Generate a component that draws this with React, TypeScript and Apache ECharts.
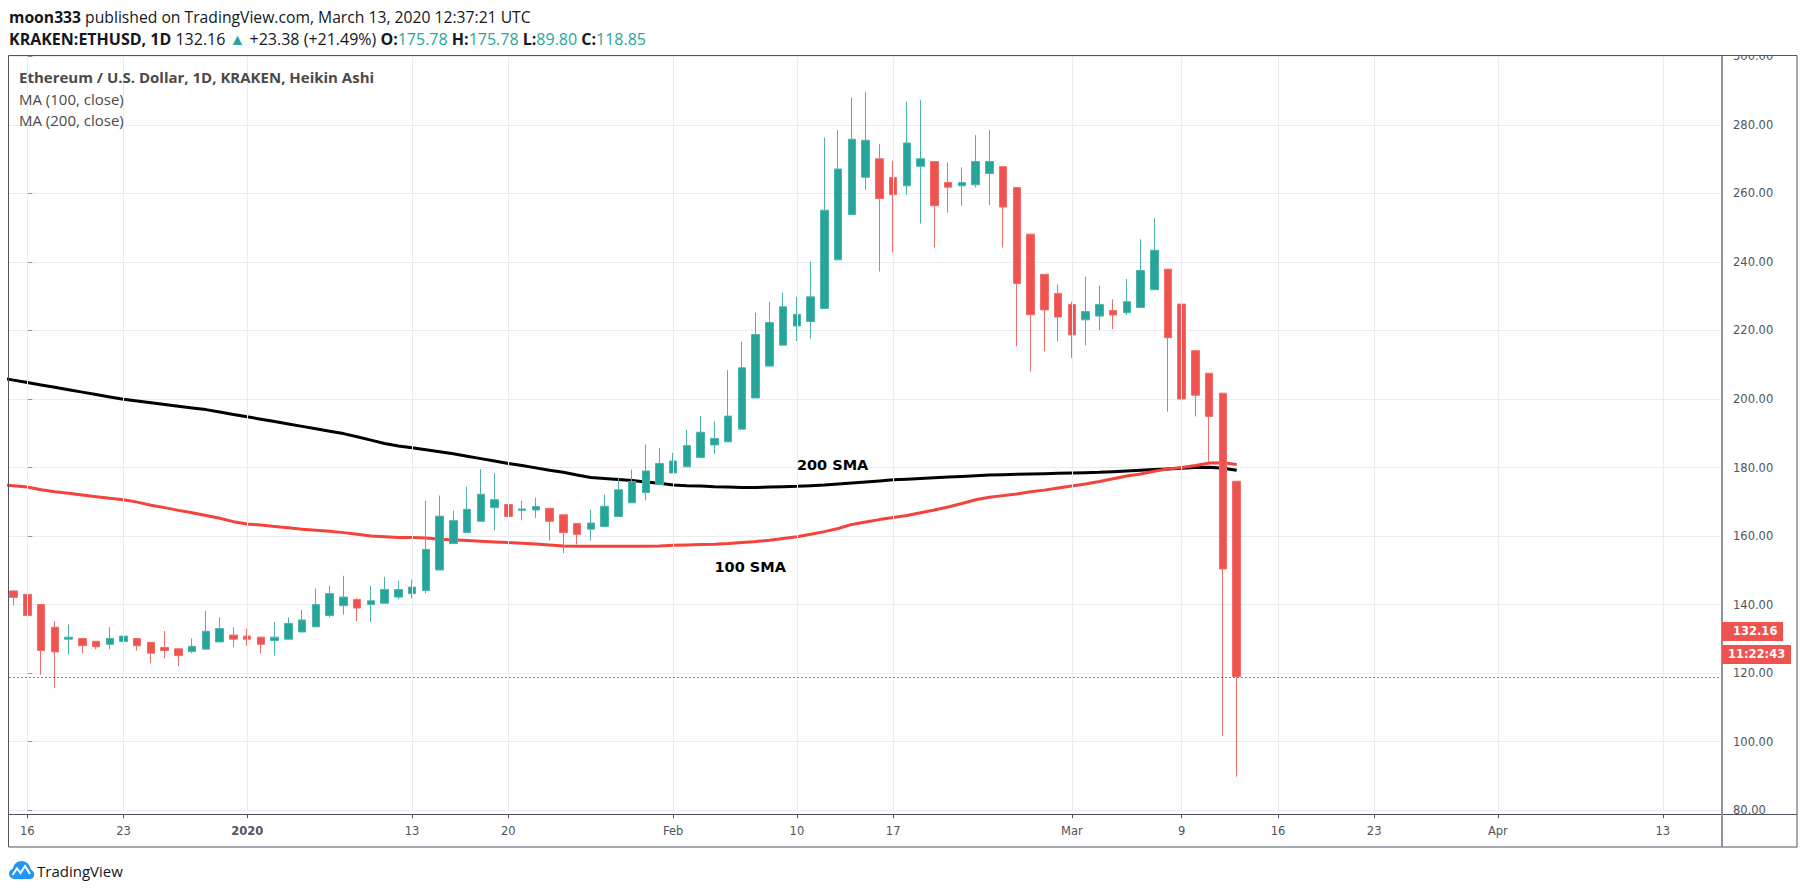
import React, { useEffect, useRef } from "react";
import * as echarts from "echarts";

const DAY = 86400000;
// first candle date and first moving-average date (UTC)
const CANDLE_START = Date.UTC(2019, 11, 15);
const MA_START = Date.UTC(2019, 11, 14);

// Heikin Ashi candles, Dec 15 2019 .. Mar 13 2020
const OPEN = [144.0, 143.0, 140.0, 133.4, 129.9, 130.1, 129.3, 128.4, 129.2, 130.1, 129.0, 127.5, 127.1, 126.3, 127.0, 129.1, 131.1, 130.8, 130.5, 129.5, 129.9, 132.0, 133.5, 136.8, 139.7, 141.5, 140.0, 140.4, 142.2, 143.2, 144.1, 150.1, 157.8, 161.0, 164.3, 168.3, 169.2, 167.5, 167.6, 168.1, 166.2, 163.7, 162.0, 162.8, 165.7, 169.7, 172.7, 175.0, 178.4, 180.2, 182.9, 186.6, 187.5, 191.2, 200.3, 209.6, 215.7, 221.3, 222.6, 226.4, 240.6, 253.8, 264.7, 270.1, 264.6, 262.2, 267.9, 269.3, 263.2, 262.2, 262.5, 265.8, 267.8, 261.7, 248.1, 236.4, 230.8, 227.6, 223.1, 224.2, 225.8, 225.2, 226.7, 231.9, 237.9, 227.7, 214.1, 207.5, 201.7, 176.0];
const CLOSE = [142.1, 136.8, 126.6, 126.2, 130.5, 128.0, 127.7, 130.1, 130.8, 128.0, 125.8, 126.6, 125.1, 127.8, 132.2, 133.0, 129.9, 129.9, 128.4, 130.5, 134.5, 135.5, 140.0, 143.2, 142.2, 139.0, 141.1, 144.4, 144.4, 145.1, 156.1, 165.8, 164.5, 167.8, 172.2, 170.6, 165.7, 167.9, 168.6, 164.3, 161.0, 160.5, 163.8, 168.7, 173.5, 175.9, 179.0, 181.2, 181.9, 186.4, 190.3, 188.5, 195.0, 209.1, 218.8, 222.3, 226.9, 224.7, 229.8, 255.1, 267.1, 275.8, 275.5, 258.5, 259.6, 274.7, 270.1, 256.4, 261.8, 263.2, 269.3, 269.3, 256.0, 233.7, 224.6, 226.0, 223.9, 218.7, 225.5, 227.6, 224.5, 228.4, 237.5, 243.4, 217.9, 200.0, 201.1, 194.9, 150.4, 119.0];
const LOW = [139.7, 129.7, 119.5, 115.6, 125.4, 125.8, 127.0, 127.0, 125.8, 126.6, 122.9, 124.3, 122.1, 125.8, 127.0, 129.1, 127.6, 128.0, 125.8, 125.1, 129.9, 132.0, 133.5, 136.3, 137.1, 135.2, 134.9, 140.4, 141.5, 141.8, 143.3, 150.1, 157.7, 161.0, 164.3, 161.6, 160.9, 164.6, 165.3, 158.7, 155.0, 157.5, 158.7, 162.8, 165.7, 169.7, 170.4, 175.0, 178.4, 180.2, 182.9, 184.0, 187.5, 191.2, 200.3, 209.6, 215.7, 216.9, 217.6, 226.4, 240.6, 253.8, 261.0, 237.2, 242.7, 259.6, 251.2, 244.2, 254.4, 256.4, 261.7, 256.6, 244.2, 215.4, 208.0, 213.9, 216.8, 212.0, 215.7, 220.1, 220.4, 224.5, 226.7, 231.9, 196.3, 189.0, 194.9, 181.5, 101.7, 89.8];
const HIGH = [144.2, 143.0, 140.0, 135.2, 134.2, 130.1, 129.3, 133.4, 135.2, 130.1, 129.0, 132.3, 127.1, 130.2, 138.2, 136.3, 133.4, 133.0, 130.5, 134.9, 136.3, 138.5, 144.7, 145.5, 148.4, 141.9, 145.5, 148.1, 146.9, 147.3, 170.3, 171.8, 167.4, 174.4, 179.5, 178.4, 169.2, 170.3, 171.2, 168.1, 166.2, 163.7, 167.7, 172.1, 177.1, 179.4, 186.7, 185.7, 184.3, 191.0, 195.0, 193.5, 208.4, 216.7, 225.2, 228.4, 231.0, 229.8, 240.1, 276.3, 278.5, 288.0, 289.5, 274.4, 269.5, 286.8, 287.2, 269.3, 269.0, 267.6, 277.0, 278.5, 267.8, 261.7, 248.1, 236.4, 233.4, 228.4, 235.7, 233.1, 229.1, 235.0, 246.6, 252.8, 237.9, 227.7, 214.1, 207.5, 201.7, 176.0];

// Moving averages, Dec 14 2019 .. Mar 13 2020
const MA100 = [175.0, 174.7, 174.3, 173.5, 172.9, 172.5, 172.0, 171.5, 171.0, 170.6, 169.9, 169.0, 168.3, 167.5, 166.8, 166.0, 165.2, 164.2, 163.5, 163.2, 162.8, 162.4, 162.0, 161.7, 161.4, 161.0, 160.5, 160.0, 159.8, 159.6, 159.6, 159.4, 159.1, 158.9, 158.7, 158.5, 158.3, 158.1, 157.9, 157.7, 157.4, 157.1, 157.0, 157.0, 157.0, 157.0, 157.0, 157.0, 157.1, 157.3, 157.4, 157.5, 157.6, 157.8, 158.1, 158.4, 158.8, 159.3, 159.8, 160.5, 161.3, 162.2, 163.4, 164.1, 164.8, 165.4, 166.0, 166.8, 167.6, 168.5, 169.5, 170.6, 171.3, 171.8, 172.3, 172.9, 173.4, 174.0, 174.6, 175.2, 175.9, 176.7, 177.5, 178.1, 178.9, 179.6, 180.0, 180.6, 181.3, 181.4, 180.9];
const MA200 = [206.2, 205.5, 204.8, 204.1, 203.4, 202.7, 202.0, 201.3, 200.6, 199.9, 199.4, 198.9, 198.4, 197.9, 197.4, 196.9, 196.2, 195.5, 194.8, 194.1, 193.4, 192.7, 192.0, 191.3, 190.6, 189.9, 189.0, 188.0, 187.0, 186.3, 185.8, 185.2, 184.6, 184.0, 183.3, 182.6, 181.9, 181.2, 180.6, 179.9, 179.2, 178.6, 177.8, 177.1, 176.8, 176.5, 176.2, 175.8, 175.4, 174.9, 174.7, 174.6, 174.4, 174.3, 174.2, 174.2, 174.3, 174.4, 174.5, 174.7, 174.9, 175.2, 175.5, 175.8, 176.1, 176.4, 176.6, 176.8, 177.0, 177.2, 177.4, 177.6, 177.8, 177.9, 178.0, 178.1, 178.2, 178.3, 178.4, 178.5, 178.6, 178.8, 179.0, 179.2, 179.4, 179.6, 179.8, 180.0, 180.1, 179.8, 179.2];

// x-axis tick dates and labels
const TICK_DATES = [[2019, 11, 16], [2019, 11, 23], [2020, 0, 1], [2020, 0, 13], [2020, 0, 20], [2020, 1, 1], [2020, 1, 10], [2020, 1, 17], [2020, 2, 1], [2020, 2, 9], [2020, 2, 16], [2020, 2, 23], [2020, 3, 1], [2020, 3, 13]];
const TICK_LABELS = ["16", "23", "2020", "13", "20", "Feb", "10", "17", "Mar", "9", "16", "23", "Apr", "13"];
const Y_MIN = 80;
const Y_MAX = 300;
const Y_STEP = 20;

const LAST_PRICE = 132.16;
const LAST_CLOSE = 118.85;
const COUNTDOWN = "11:22:43";

// label anchors for the MA annotations (date, value)
const SMA200_LABEL = { date: [2020, 1, 10], value: 180.8, text: "200 SMA" };
const SMA100_LABEL = { date: [2020, 1, 4], value: 151.0, text: "100 SMA" };

const UP = "#26a69a";
const DOWN = "#ef5350";

// the x axis counts days from Dec 16 2019
const ORIGIN = Date.UTC(2019, 11, 16);
const dayOf = (d: number[]) => (Date.UTC(d[0], d[1], d[2]) - ORIGIN) / DAY;
const TICK_DAYS = TICK_DATES.map(dayOf);
const CANDLE_DAY0 = (CANDLE_START - ORIGIN) / DAY;
const MA_DAY0 = (MA_START - ORIGIN) / DAY;

let logoRegistered = false;
function registerLogo() {
  if (logoRegistered) return;
  logoRegistered = true;
  const d =
    "M6 20 C2.7 20 0 17.3 0 14 C0 11.2 1.9 8.9 4.5 8.2 C5.2 3.5 9.2 0 14 0 C19.2 0 23.4 4.1 23.9 9.2 C26.3 10.2 28 12.6 28 15.3 C28 17.9 25.9 20 23.3 20 Z";
  echarts.graphic.registerShape("tvlogo", (echarts.graphic as any).extendPath(d, {}));
}

export default function App() {
  const ref = useRef<HTMLDivElement>(null);
  useEffect(() => {
    document.body.style.margin = "0";
    registerLogo();
    const chart = echarts.init(ref.current!, null, { renderer: "svg" });

    const candles = OPEN.map((o, i) => [CANDLE_DAY0 + i, o, CLOSE[i], LOW[i], HIGH[i]]);
    const ma100 = MA100.map((v, i) => [MA_DAY0 + i, v]);
    const ma200 = MA200.map((v, i) => [MA_DAY0 + i, v]);

    const axisFont = "DejaVu Sans";
    const option: any = {
      animation: false,
      backgroundColor: "#ffffff",
      grid: {
        left: 9,
        right: 83,
        top: 56.3,
        bottom: 83.8,
        containLabel: false,
        outerBoundsMode: "none",
      },
      xAxis: {
        type: "value",
        min: -1.3316,
        max: 123.31,
        offset: 4,
        axisLine: { show: false },
        axisTick: {
          show: true,
          customValues: TICK_DAYS,
          length: 4,
          lineStyle: { color: "#50535e", width: 1 },
        },
        axisLabel: {
          customValues: TICK_DAYS,
          margin: 11,
          color: "#50535e",
          fontSize: 11.5,
          fontFamily: axisFont,
          formatter: (v: number) => {
            const i = TICK_DAYS.indexOf(v);
            const s = i >= 0 ? TICK_LABELS[i] : "";
            return s === "2020" ? "{b|" + s + "}" : s;
          },
          rich: {
            b: { fontWeight: "bold", fontSize: 11.5, fontFamily: axisFont, color: "#50535e" },
          },
        },
        splitLine: { show: false },
      },
      yAxis: {
        type: "value",
        position: "right",
        min: Y_MIN,
        max: Y_MAX,
        interval: Y_STEP,
        axisLine: { show: false },
        axisTick: { show: true, length: 5, lineStyle: { color: "#8f929b", width: 1 } },
        axisLabel: {
          margin: 11,
          color: "#50535e",
          fontSize: 11.5,
          fontFamily: axisFont,
          formatter: (v: number) => v.toFixed(2),
        },
        splitLine: { show: true, lineStyle: { color: "#e9edf2", width: 1 } },
      },
      series: [
        {
          type: "line",
          name: "grid",
          data: [],
          z: 1,
          silent: true,
          markLine: {
            silent: true,
            symbol: ["none", "none"],
            label: { show: false },
            lineStyle: { color: "#e9edf2", width: 1, type: "solid" },
            data: TICK_DAYS.map((t) => ({ xAxis: t })),
          },
        },
        {
          type: "line",
          name: "MA 200",
          data: ma200,
          showSymbol: false,
          symbol: "none",
          z: 2,
          lineStyle: { color: "#000000", width: 3 },
        },
        {
          type: "line",
          name: "MA 100",
          data: ma100,
          showSymbol: false,
          symbol: "none",
          z: 2,
          lineStyle: { color: "#f4433b", width: 3 },
        },
        {
          type: "candlestick",
          name: "ETHUSD",
          data: candles,
          barWidth: 8,
          z: 3,
          itemStyle: {
            color: UP,
            color0: DOWN,
            borderColor: "#4db3a9",
            borderColor0: "#f26d6a",
            borderWidth: 1,
          },
          markLine: {
            silent: true,
            symbol: ["none", "none"],
            label: { show: false },
            lineStyle: { color: DOWN, width: 1, type: [2, 2] },
            data: [{ yAxis: LAST_CLOSE }],
          },
        },
      ],
    };
    chart.setOption(option);

    const yTag = chart.convertToPixel({ yAxisIndex: 0 }, LAST_PRICE) as number;
    const p200 = chart.convertToPixel({ gridIndex: 0 }, [dayOf(SMA200_LABEL.date), SMA200_LABEL.value]) as number[];
    const p100 = chart.convertToPixel({ gridIndex: 0 }, [dayOf(SMA100_LABEL.date), SMA100_LABEL.value]) as number[];

    const hdr = "Open Sans";
    const txt = (x: number, y: number, style: any, z = 110) => ({
      type: "text",
      x,
      y,
      z,
      silent: true,
      style: { verticalAlign: "middle", align: "left", ...style },
    });

    const graphic: any[] = [
      { type: "rect", z: 100, silent: true, shape: { x: 1723, y: 0, width: 74, height: 55 }, style: { fill: "#ffffff" } },
      { type: "rect", z: 100, silent: true, shape: { x: 1723, y: 814, width: 74, height: 32.5 }, style: { fill: "#ffffff" } },
      { type: "rect", z: 101, silent: true, shape: { x: 8.5, y: 55.5, width: 1788.5, height: 791.5 }, style: { fill: "none", stroke: "#50535e", lineWidth: 1 } },
      { type: "line", z: 101, silent: true, shape: { x1: 9, y1: 814.5, x2: 1797, y2: 814.5 }, style: { stroke: "#50535e", lineWidth: 1 } },
      { type: "line", z: 101, silent: true, shape: { x1: 1722, y1: 56, x2: 1722, y2: 847 }, style: { stroke: "#8f929b", lineWidth: 2 } },
      txt(9, 17, {
        text: "{b|moon333} published on TradingView.com, March 13, 2020 12:37:21 UTC",
        fill: "#131722",
        fontSize: 15.7,
        fontFamily: hdr,
        rich: { b: { fontWeight: "bold", fontSize: 15.7, fontFamily: hdr, fill: "#131722" } },
      }),
      txt(9, 39, {
        text:
          "{b|KRAKEN:ETHUSD, 1D} 132.16 {t|▲} +23.38 (+21.49%) {b|O:}{t|175.78} {b|H:}{t|175.78} {b|L:}{t|89.80} {b|C:}{t|118.85}",
        fill: "#131722",
        fontSize: 16,
        fontFamily: hdr,
        rich: {
          b: { fontWeight: "bold", fontSize: 16, fontFamily: hdr, fill: "#131722" },
          t: { fontSize: 16, fontFamily: hdr, fill: UP },
        },
      }),
      txt(19, 77, { text: "Ethereum / U.S. Dollar, 1D, KRAKEN, Heikin Ashi", fill: "#4a4a4a", fontSize: 15, fontWeight: "bold", fontFamily: hdr }),
      txt(19, 99, { text: "MA (100, close)", fill: "#4a4a4a", fontSize: 15, fontFamily: hdr }),
      txt(19, 120, { text: "MA (200, close)", fill: "#4a4a4a", fontSize: 15, fontFamily: hdr }),
      txt(p200[0], p200[1], { text: SMA200_LABEL.text, fill: "#000000", fontSize: 14.5, fontWeight: "bold", fontFamily: "DejaVu Sans" }, 20),
      txt(p100[0], p100[1], { text: SMA100_LABEL.text, fill: "#000000", fontSize: 14.5, fontWeight: "bold", fontFamily: "DejaVu Sans" }, 20),
      { type: "rect", z: 105, silent: true, shape: { x: 1722, y: yTag - 9.5, width: 61, height: 19 }, style: { fill: DOWN } },
      txt(1733, yTag, { text: LAST_PRICE.toFixed(2), fill: "#ffffff", fontSize: 11.5, fontWeight: "bold", fontFamily: axisFont }, 106),
      { type: "rect", z: 105, silent: true, shape: { x: 1722, y: yTag + 13.5, width: 69, height: 19 }, style: { fill: DOWN } },
      txt(1728, yTag + 23, { text: COUNTDOWN, fill: "#ffffff", fontSize: 11.5, fontWeight: "bold", fontFamily: axisFont }, 106),
      { type: "tvlogo", z: 110, silent: true, x: 9, y: 861, scaleX: 0.9, scaleY: 0.9, style: { fill: "#2196f3" } },
      {
        type: "polyline",
        z: 111,
        silent: true,
        shape: { points: [[12.5, 875], [17, 868.5], [20.5, 873], [25, 866], [30, 874]] },
        style: { stroke: "#ffffff", lineWidth: 2, fill: "none" },
      },
      txt(37, 871, { text: "TradingView", fill: "#131722", fontSize: 15, fontFamily: hdr }),
    ];
    chart.setOption({ graphic });

    return () => chart.dispose();
  }, []);
  return <div ref={ref} style={{ width: 1805, height: 894 }} />;
}
